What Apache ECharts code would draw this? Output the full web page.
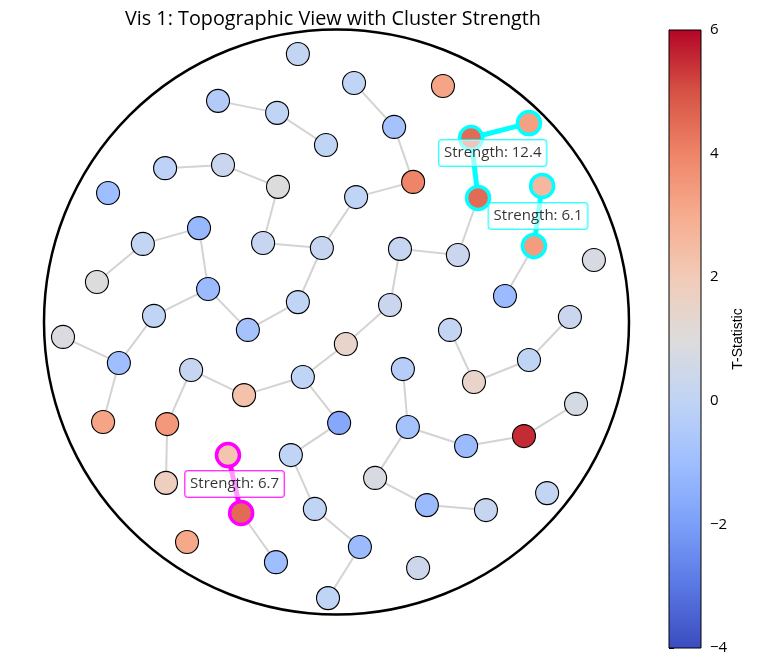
<!DOCTYPE html>
<html><head><meta charset="utf-8">
<script src="https://cdn.jsdelivr.net/npm/echarts@6/dist/echarts.min.js"></script>
<style>html,body{margin:0;padding:0;background:#fff}#c{width:757px;height:668px}</style>
</head><body><div id="c"></div>
<script>
// Node positions (head coordinates, unit circle = scalp outline) and T-statistics
const nodeX = [-0.132,-0.405,-0.203,-0.036,-0.586,-0.388,-0.200,-0.781,-0.470,-0.662,
  -0.251,-0.050,-0.819,-0.439,-0.132,-0.624,-0.303,-0.935,0.060,0.364,
  0.197,0.262,0.067,0.460,0.658,0.484,0.703,0.675,0.217,0.415,
  0.183,0.880,0.576,0.798,0.388,0.032,-0.744,-0.497,0.658,-0.115,
  0.227,0.470,-0.316,0.819,-0.798,-0.579,0.009,0.244,0.641,0.443,
  -0.156,-0.371,0.132,-0.583,0.720,0.309,0.511,-0.074,-0.326,-0.511,
  0.080,-0.207,0.279,-0.029];
const nodeY = [0.916,0.756,0.715,0.605,0.526,0.537,0.462,0.441,0.321,0.267,
  0.270,0.253,0.137,0.113,0.068,0.021,-0.027,-0.051,0.817,0.807,
  0.667,0.479,0.427,0.629,0.680,0.424,0.465,0.260,0.250,0.229,
  0.058,0.212,0.089,0.017,-0.027,-0.075,-0.140,-0.164,-0.130,-0.188,
  -0.161,-0.205,-0.250,-0.280,-0.342,-0.349,-0.345,-0.359,-0.390,-0.424,
  -0.455,-0.455,-0.533,-0.550,-0.585,-0.626,-0.643,-0.639,-0.653,-0.752,
  -0.769,-0.821,-0.841,-0.944];
const nodeT = [0.1,-0.4,0.0,0.0,-0.1,0.3,1.0,-1.0,-1.2,0.1,
  0.2,0.2,1.0,-1.1,0.0,0.0,-0.8,0.9,0.0,3.2,
  -0.8,4.0,0.0,4.5,3.3,4.5,2.6,3.4,0.2,0.3,
  0.3,0.8,-1.1,0.3,0.1,1.5,-1.0,0.2,0.0,0.0,
  -0.3,1.5,2.3,0.7,3.2,3.5,-1.7,-0.8,5.5,-1.1,
  0.0,2.2,0.8,1.8,0.1,-1.1,0.2,0.0,4.5,3.1,
  -1.1,-1.0,0.4,0.0];
// Edges (1-based node numbers)
const edgeFrom = [2,3,5,6,7,11,12,12,9,10,9,14,15,14,19,21,22,26,28,29,29,31,34,35,42,18,37,37,38,43,40,38,46,40,47,51,58,59,64,41,48,50,49,48,53,56];
const edgeTo   = [3,4,6,7,11,12,15,23,10,13,14,17,17,16,21,22,23,30,33,30,31,36,39,42,39,37,16,45,43,40,36,46,54,47,51,58,61,62,61,48,50,49,44,53,56,57];
// Significant clusters
const clusterNodes = [[24,25,26],[27,28],[52,59]];
const clusterEdges = [[[24,25],[24,26]],[[27,28]],[[52,59]]];
const clusterStrength = [12.4, 6.1, 6.7];
const clusterColor = ['#00ffff','#00ffff','#ff00ff'];
// Colour scale
const colorMin = -4, colorMax = 6, colorStep = 2;
const coolwarm = ['#3b4cc0','#5977e3','#7b9ff9','#9ebeff','#c0d4f5','#dddcdc','#f2cbb7','#f7ac8e','#ee8468','#d65244','#b40426'];

const pt = i => [nodeX[i-1], nodeY[i-1]];
const highlight = {};
clusterNodes.forEach((ns, c) => ns.forEach(n => highlight[n] = clusterColor[c]));

const nodeData = nodeX.map((x, i) => {
  const d = {value: [x, nodeY[i], nodeT[i]]};
  if (highlight[i+1]) d.itemStyle = {borderColor: highlight[i+1], borderWidth: 3.5};
  return d;
});
const edgeData = edgeFrom.map((a, k) => ({coords: [pt(a), pt(edgeTo[k])]}));
const hlEdgeData = [];
clusterEdges.forEach((es, c) => es.forEach(e => hlEdgeData.push({coords: [pt(e[0]), pt(e[1])], lineStyle: {color: clusterColor[c]}})));
const labelData = clusterNodes.map((ns, c) => {
  const cx = ns.reduce((s, n) => s + nodeX[n-1], 0) / ns.length;
  const cy = ns.reduce((s, n) => s + nodeY[n-1], 0) / ns.length;
  return {value: [cx, cy], label: {borderColor: clusterColor[c]}, strength: clusterStrength[c]};
});

const FONT = '"Open Sans", Roboto, sans-serif';
const chart = echarts.init(document.getElementById('c'));
chart.setOption({
  animation: false,
  backgroundColor: '#fff',
  title: {text: 'Vis 1: Topographic View with Cluster Strength', left: 120, top: 4,
    textStyle: {fontFamily: FONT, fontSize: 19.8, fontWeight: 'normal', color: '#000'}},
  grid: [
    {left: 14.75, top: 0.25, width: 643.5, height: 643.5},
    {left: 669, top: 30, width: 32, height: 618}
  ],
  xAxis: [
    {gridIndex: 0, min: -1.1, max: 1.1, show: false},
    {gridIndex: 1, min: 0, max: 1, show: false}
  ],
  yAxis: [
    {gridIndex: 0, min: -1.1, max: 1.1, show: false},
    {gridIndex: 1, min: colorMin, max: colorMax, interval: colorStep, position: 'right',
     axisLine: {show: true, lineStyle: {color: '#000', width: 1}},
     axisTick: {show: true, inside: false, length: 5, lineStyle: {color: '#000'}},
     splitLine: {show: false},
     axisLabel: {color: '#000', fontSize: 15, fontFamily: FONT, margin: 9,
       formatter: v => String(v).replace('-', '\u2212')},
     name: 'T-Statistic', nameLocation: 'middle', nameRotate: 90, nameGap: 29,
     nameTextStyle: {color: '#000', fontSize: 14, fontFamily: '"Liberation Sans", Arial, sans-serif'}}
  ],
  visualMap: {type: 'continuous', show: false, seriesIndex: 3, dimension: 2,
    min: colorMin, max: colorMax, inRange: {color: coolwarm}},
  series: [
    {type: 'custom', xAxisIndex: 0, yAxisIndex: 0, data: [[0, 0, 1]], silent: true, z: 1,
     renderItem: (params, api) => {
       const c = api.coord([api.value(0), api.value(1)]);
       const r = api.size([api.value(2), 0])[0];
       return {type: 'circle', shape: {cx: c[0], cy: c[1], r: r},
         style: {fill: null, stroke: '#000', lineWidth: 2.5}};
     }},
    {type: 'lines', coordinateSystem: 'cartesian2d', xAxisIndex: 0, yAxisIndex: 0, z: 2, silent: true,
     data: edgeData, lineStyle: {color: '#d3d3d3', width: 2, opacity: 1}},
    {type: 'lines', coordinateSystem: 'cartesian2d', xAxisIndex: 0, yAxisIndex: 0, z: 3, silent: true,
     data: hlEdgeData, lineStyle: {width: 5, opacity: 1}},
    {type: 'scatter', xAxisIndex: 0, yAxisIndex: 0, z: 4, data: nodeData, symbolSize: 23,
     itemStyle: {borderColor: '#000', borderWidth: 1.1, opacity: 1}},
    {type: 'scatter', xAxisIndex: 0, yAxisIndex: 0, z: 5, data: labelData, symbolSize: 0,
     itemStyle: {color: 'transparent'},
     label: {show: true, position: 'inside', formatter: p => 'Strength: ' + p.data.strength,
       color: '#000', fontSize: 15, lineHeight: 16, fontFamily: FONT, backgroundColor: 'rgba(255,255,255,0.75)',
       borderWidth: 1, borderRadius: 3, padding: [5, 5]}},
    {type: 'custom', xAxisIndex: 1, yAxisIndex: 1, data: [[0, colorMin, 1, colorMax]], silent: true, z: 1,
     renderItem: (params, api) => {
       const p0 = api.coord([api.value(0), api.value(3)]);
       const p1 = api.coord([api.value(2), api.value(1)]);
       const stops = coolwarm.map((col, i) => ({offset: i / (coolwarm.length - 1), color: col}));
       return {type: 'rect', shape: {x: p0[0], y: p0[1], width: p1[0] - p0[0], height: p1[1] - p0[1]},
         style: {fill: new echarts.graphic.LinearGradient(0, 1, 0, 0, stops), stroke: '#000', lineWidth: 1}};
     }}
  ]
});
</script></body></html>
